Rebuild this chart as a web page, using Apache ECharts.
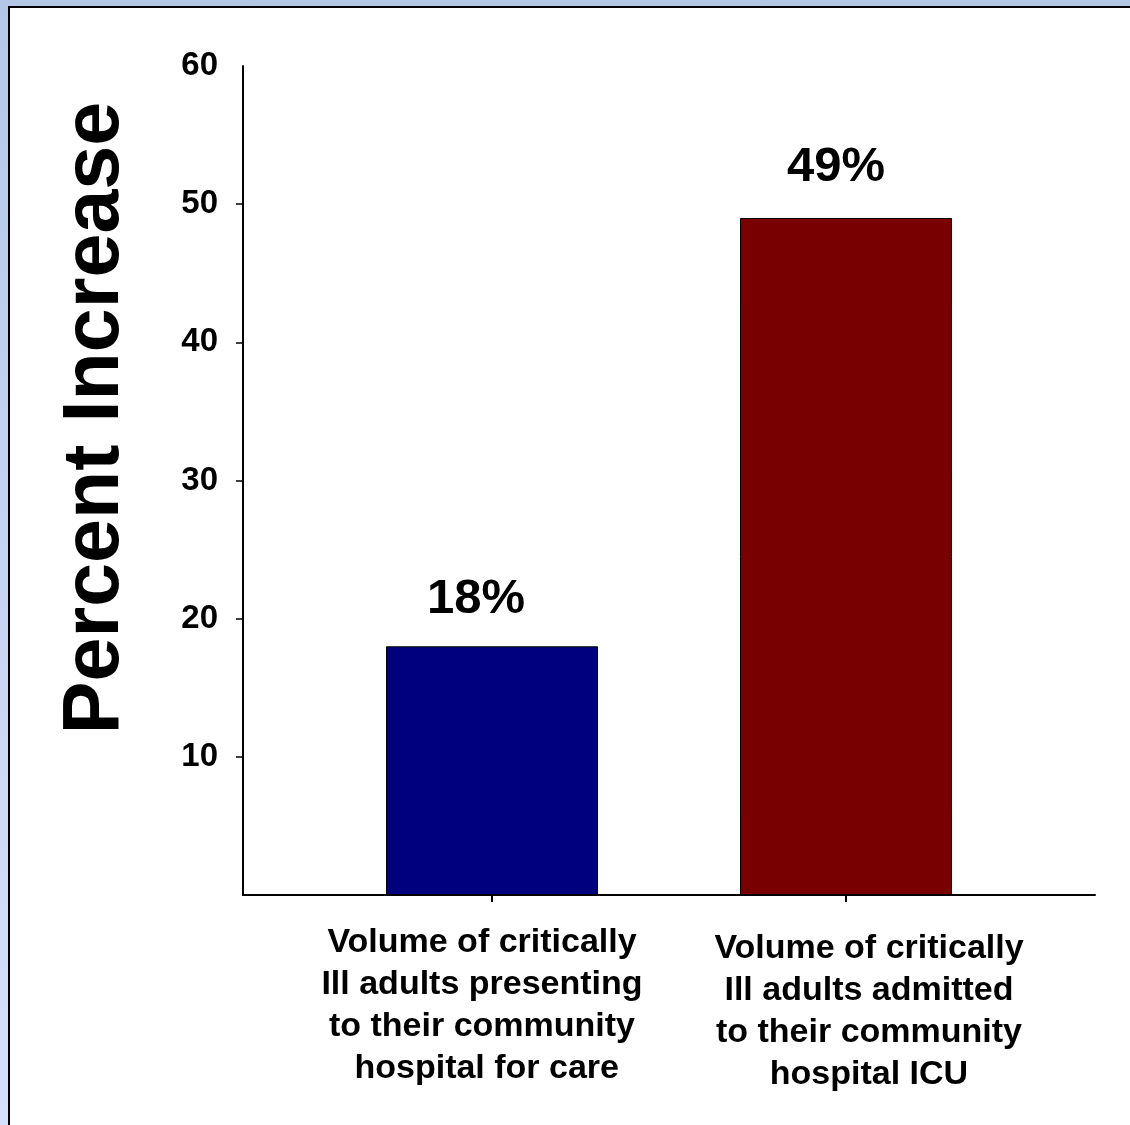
<!DOCTYPE html>
<html>
<head>
<meta charset="utf-8">
<title>Percent Increase</title>
<script src="https://cdn.jsdelivr.net/npm/echarts@6/dist/echarts.min.js"></script>
<style>
  html, body { margin: 0; padding: 0; }
  #page {
    position: relative; width: 1130px; height: 1125px; overflow: hidden;
    background: linear-gradient(to bottom, #b4c7e7, #d6e0fd);
  }
  #frame {
    position: absolute; left: 8px; top: 6px; width: 1122px; height: 1119px;
    box-sizing: border-box; background: #ffffff;
    border-left: 2px solid #000; border-top: 2px solid #000;
  }
  #chart { position: absolute; left: 0; top: 0; width: 1130px; height: 1125px; }
</style>
</head>
<body>
<div id="page">
  <div id="frame"></div>
  <div id="chart"></div>
</div>
<script>
// Categories (one multi-line label each)
const categories = [
  ['Volume of critically', 'Ill adults presenting', 'to their community', ' hospital for care'],
  ['Volume of critically', 'Ill adults admitted', 'to their community', 'hospital ICU']
];
// Percent increase per category
const values = [18, 49];
const barColors = ['#00007f', '#780000'];
// Y axis tick labels
const yTickLabels = [10, 20, 30, 40, 50, 60];
const yTicks = [10, 20, 30, 40, 50];

const FONT = '"Liberation Sans", Arial, Helvetica, sans-serif';

const chart = echarts.init(document.getElementById('chart'), null, { renderer: 'canvas' });

const labelOffsets = [[-16, 0], [-10, -3]];
const barData = values.map((v, i) => ({
  value: [i, v],
  itemStyle: { color: barColors[i] },
  label: { offset: labelOffsets[i] }
}));

const catText = { fontFamily: FONT, fontWeight: 'bold', fontSize: 34, color: '#000' };

const option = {
  animation: false,
  backgroundColor: 'transparent',
  grid: { left: 243, right: 35, top: 66, bottom: 230, containLabel: false },
  xAxis: {
    type: 'value',
    min: -0.7034,
    max: 1.7034,
    splitLine: { show: false },
    axisLine: { show: true, lineStyle: { color: '#000', width: 2 } },
    axisTick: { show: true, customValues: [0, 1], length: 7, lineStyle: { color: '#000', width: 2 } },
    axisLabel: {
      show: true,
      customValues: [0, 1],
      margin: 27,
      formatter: function (val) {
        const idx = Math.round(val);
        const lines = categories[idx];
        if (!lines) return '';
        const s = idx === 0 ? 'a' : 'b';
        return lines.map((t, k) => '{' + s + (k === 0 ? '0' : '') + '|' + t + '}').join('\n');
      },
      rich: {
        a0: Object.assign({}, catText, { lineHeight: 42, padding: [0, 20, 0, 0] }),
        a:  Object.assign({}, catText, { lineHeight: 42, padding: [0, 20, 0, 0] }),
        b0: Object.assign({}, catText, { lineHeight: 48, verticalAlign: 'bottom', padding: [0, 0, 4, 46] }),
        b:  Object.assign({}, catText, { lineHeight: 42, padding: [0, 0, 0, 46] })
      }
    }
  },
  yAxis: {
    type: 'value',
    min: 0,
    max: 60,
    interval: 10,
    splitLine: { show: false },
    axisLine: { show: true, onZero: false, lineStyle: { color: '#000', width: 2 } },
    axisTick: { show: true, customValues: yTicks, length: 7, lineStyle: { color: '#000', width: 1.5 } },
    axisLabel: {
      customValues: yTickLabels,
      margin: 25,
      fontFamily: FONT,
      fontWeight: 'bold',
      fontSize: 33,
      color: '#000'
    }
  },
  series: [{
    type: 'bar',
    barWidth: 212,
    data: barData,
    itemStyle: { borderColor: '#000', borderWidth: 1 },
    label: {
      show: true,
      position: 'top',
      distance: 22,
      lineHeight: 50,
      fontFamily: FONT,
      fontWeight: 'bold',
      fontSize: 49,
      color: '#000',
      formatter: function (p) { return p.value[1] + '%'; }
    }
  }],
  graphic: [{
    type: 'text',
    x: 96,
    y: 418,
    rotation: Math.PI / 2,
    style: {
      text: 'Percent Increase',
      font: 'bold 79px ' + FONT,
      fill: '#000',
      textAlign: 'center',
      textVerticalAlign: 'middle'
    }
  }]
};

chart.setOption(option);
</script>
</body>
</html>
